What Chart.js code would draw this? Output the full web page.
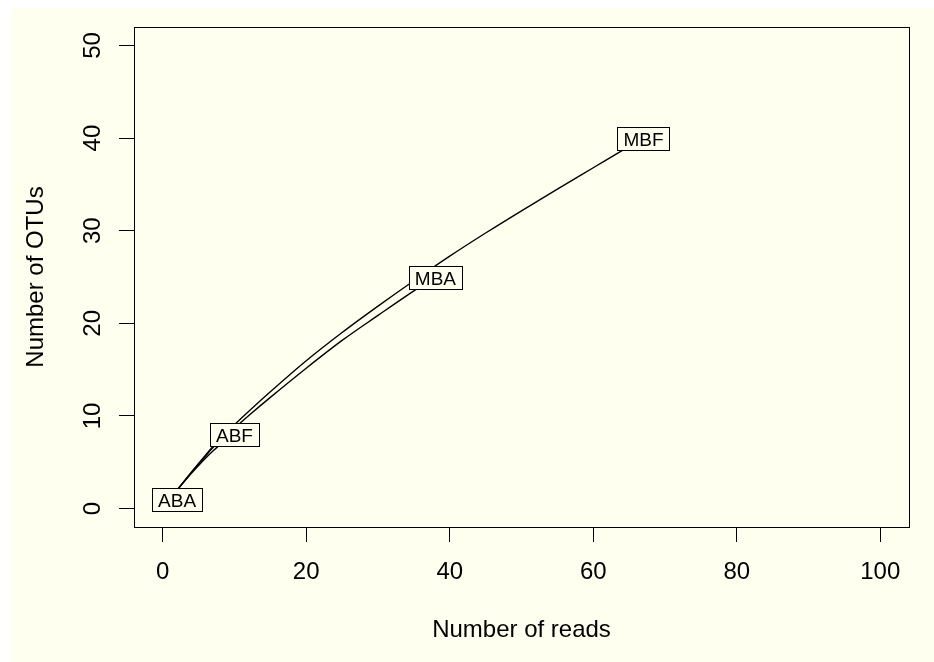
<!DOCTYPE html>
<html>
<head>
<meta charset="utf-8">
<script src="https://cdn.jsdelivr.net/npm/chart.js@4"></script>
<style>
  html, body { margin: 0; padding: 0; background: #ffffff; }
  #wrap { width: 934px; height: 662px; }
</style>
</head>
<body>
<div id="wrap"><canvas id="rare" width="934" height="662"></canvas></div>
<script>
// rarefaction curves
const sampleNames = ['ABA', 'ABF', 'MBA', 'MBF'];
const readsABA = [1, 2];
const otusABA = [1, 1];
const readsABF = [1, 2, 3, 4, 5, 6, 7, 8, 9, 10];
const otusABF = [1, 1.96, 2.9, 3.8, 4.65, 5.45, 6.2, 6.9, 7.5, 8.0];
const readsMBA = [1, 2, 3, 4, 5, 6, 7, 8, 9, 10, 12, 15, 20, 25, 30, 35, 38];
const otusMBA = [1, 1.98, 2.94, 3.88, 4.8, 5.7, 6.57, 7.4, 8.1, 8.7, 10.05, 12.0, 15.15, 18.15, 20.85, 23.5, 25];
const readsMBF = [1, 2, 3, 4, 5, 6, 7, 8, 9, 10, 12, 15, 20, 25, 30, 35, 40, 45, 50, 55, 60, 65, 67];
const otusMBF = [1, 1.99, 2.96, 3.92, 4.86, 5.79, 6.7, 7.55, 8.3, 9.05, 10.5, 12.6, 15.95, 19.0, 21.85, 24.6, 27.25, 29.75, 32.15, 34.5, 36.8, 39.1, 40];

const xTicks = [0, 20, 40, 60, 80, 100];
const yTicks = [0, 10, 20, 30, 40, 50];
const xTitle = 'Number of reads';
const yTitle = 'Number of OTUs';

const BG = '#fffff0';
const FONT = '"Liberation Sans", Arial, sans-serif';

const pts = (xs, ys) => xs.map((x, i) => ({ x: x, y: ys[i] }));
const curve = (name, xs, ys) => ({
    label: name,
    data: pts(xs, ys),
    showLine: true,
    borderColor: '#000',
    borderWidth: 1.4,
    pointRadius: 0,
    cubicInterpolationMode: 'monotone',
    fill: false
});

const rPlot = {
    id: 'rPlot',
    beforeDraw(chart) {
        const c = chart.ctx;
        c.save();
        c.fillStyle = BG;
        c.fillRect(11, 9, chart.width - 11, chart.height - 9);
        c.restore();
    },
    afterDatasetsDraw(chart) {
        // sample names in boxes at the end of each curve
        const c = chart.ctx;
        const xs = chart.scales.x, ys = chart.scales.y;
        c.save();
        c.font = '19px ' + FONT;
        c.textAlign = 'center';
        c.textBaseline = 'alphabetic';
        chart.data.datasets.forEach(ds => {
            const last = ds.data[ds.data.length - 1];
            const cx = xs.getPixelForValue(last.x);
            const cy = ys.getPixelForValue(last.y);
            const w = Math.round(c.measureText(ds.label).width + 12);
            const h = 23;
            const l = Math.round(cx - w / 2) + 0.5;
            const t = Math.round(cy - h / 2) + 0.5;
            c.fillStyle = BG;
            c.fillRect(l, t, w, h);
            c.strokeStyle = '#000';
            c.lineWidth = 1;
            c.strokeRect(l, t, w, h);
            c.fillStyle = '#000';
            c.fillText(ds.label, cx, cy + 7.5);
        });
        c.restore();
    },
    afterDraw(chart) {
        const c = chart.ctx;
        const a = chart.chartArea;
        const xs = chart.scales.x, ys = chart.scales.y;
        c.save();
        c.strokeStyle = '#000';
        c.lineWidth = 1;
        c.strokeRect(a.left + 0.5, a.top + 0.5, a.right - a.left, a.bottom - a.top);

        c.fillStyle = '#000';
        c.font = '24px ' + FONT;
        c.textAlign = 'center';
        c.textBaseline = 'alphabetic';
        xTicks.forEach(v => c.fillText(String(v), xs.getPixelForValue(v), 579));
        c.fillText(xTitle, (a.left + a.right) / 2, 637);

        yTicks.forEach(v => {
            c.save();
            c.translate(100, ys.getPixelForValue(v));
            c.rotate(-Math.PI / 2);
            c.fillText(String(v), 0, 0);
            c.restore();
        });
        c.save();
        c.translate(43, (a.top + a.bottom) / 2);
        c.rotate(-Math.PI / 2);
        c.fillText(yTitle, 0, 0);
        c.restore();
        c.restore();
    }
};

const setTicks = list => scale => { scale.ticks = list.map(v => ({ value: v })); };

new Chart(document.getElementById('rare').getContext('2d'), {
    type: 'scatter',
    data: {
        datasets: [
            curve(sampleNames[0], readsABA, otusABA),
            curve(sampleNames[1], readsABF, otusABF),
            curve(sampleNames[2], readsMBA, otusMBA),
            curve(sampleNames[3], readsMBF, otusMBF)
        ]
    },
    options: {
        responsive: false,
        animation: false,
        devicePixelRatio: 1,
        layout: { padding: { top: 27, right: 25, left: 0, bottom: 0 } },
        plugins: { legend: { display: false }, tooltip: { enabled: false } },
        scales: {
            x: {
                type: 'linear',
                min: -4, max: 104,
                afterBuildTicks: setTicks(xTicks),
                afterFit: s => { s.height = 135; },
                ticks: { display: false },
                grid: { drawOnChartArea: false, drawTicks: true, tickLength: 15, color: '#000', lineWidth: 1 },
                border: { display: false }
            },
            y: {
                type: 'linear',
                min: -2, max: 52,
                afterBuildTicks: setTicks(yTicks),
                afterFit: s => { s.width = 134; },
                ticks: { display: false },
                grid: { drawOnChartArea: false, drawTicks: true, tickLength: 15, color: '#000', lineWidth: 1 },
                border: { display: false }
            }
        }
    },
    plugins: [rPlot]
});
</script>
</body>
</html>
